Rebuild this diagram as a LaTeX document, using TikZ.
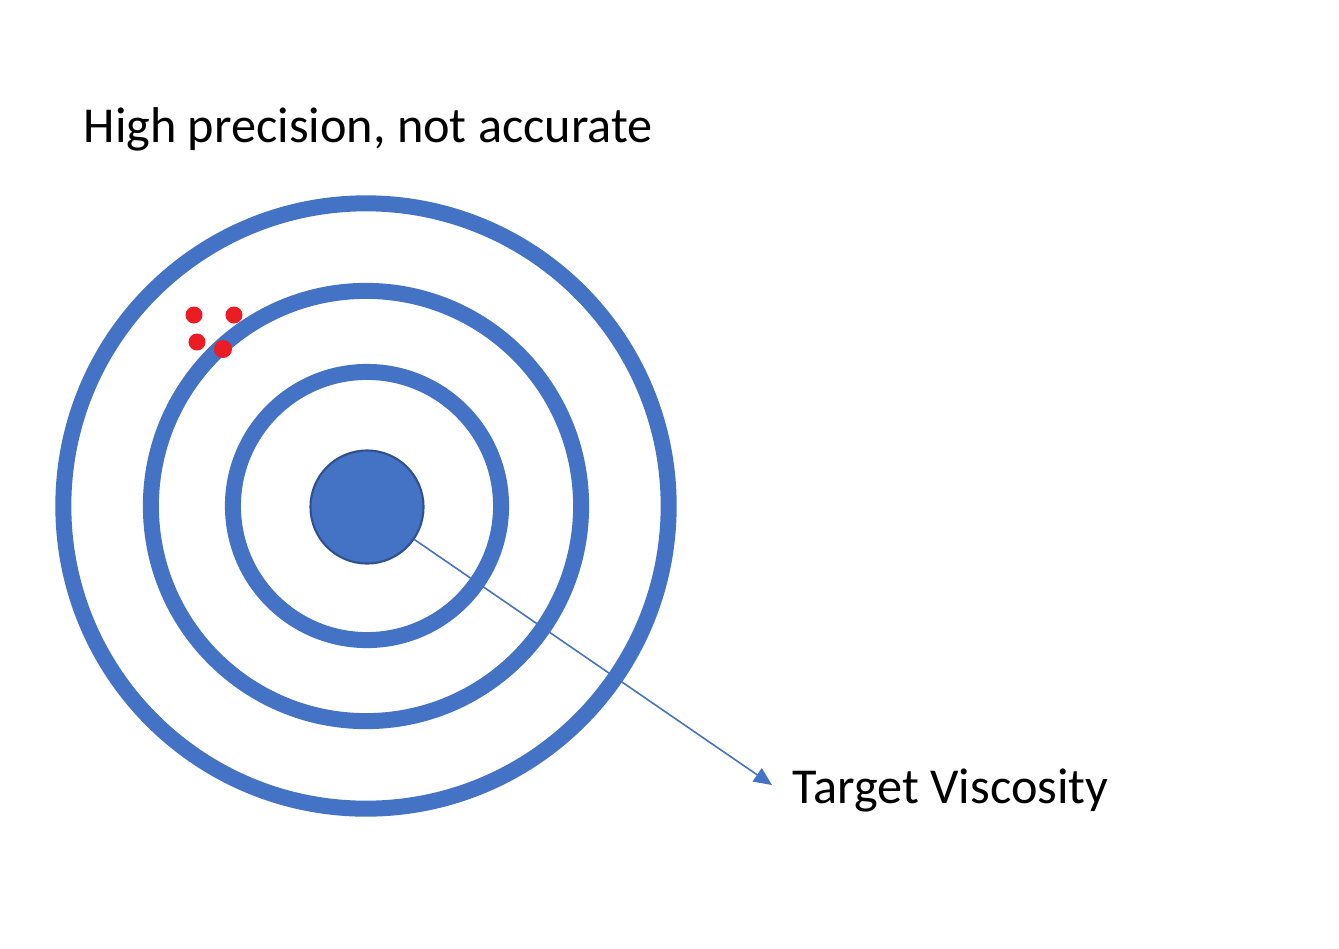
\documentclass[tikz,border=0pt]{standalone}
\usepackage{fontspec}
\setmainfont{Carlito}
\usetikzlibrary{arrows.meta}
\definecolor{ringblue}{HTML}{4472C4}
\definecolor{rimblue}{HTML}{2F528F}
\definecolor{hitred}{HTML}{EC1C24}
\begin{document}
\begin{tikzpicture}[x=0.01cm, y=-0.01cm,
		ring/.style={draw=ringblue, line width=0.16cm, circle, inner sep=0pt},
		hit/.style={fill=hitred, circle, inner sep=0pt, minimum size=0.17cm},
		caption/.style={font=\fontsize{14.3}{17}\selectfont, inner sep=0pt}]
		%%%%% START %%%%%
		
		\useasboundingbox (0, 0) rectangle (1339, 948);
		
		\node[caption, anchor=base west] (title) at (83, 142) {High precision, not accurate};
		
		% rings of the target
		\node[ring, minimum size=6.05cm] (outer) at (366, 506) {};
		\node[ring, minimum size=4.30cm] (middle) at (366, 506) {};
		\node[ring, minimum size=2.68cm] (inner) at (367, 506) {};
		
		\node[circle, fill=ringblue, draw=rimblue, line width=0.6pt, minimum size=1.13cm, inner sep=0pt] (bull) at (367, 507) {};
		
		% the shots
		\node[hit] (hitA) at (194, 315) {};
		\node[hit] (hitB) at (234, 315) {};
		\node[hit] (hitC) at (197, 342) {};
		\node[hit, minimum size=0.18cm] (hitD) at (223, 349) {};
		
		\node[caption, anchor=base west] (label) at (792, 803) {Target Viscosity};
		\coordinate (tip) at (772, 785);
		\draw[ringblue, line width=0.45pt, -{Triangle[length=0.18cm, width=0.16cm]}] (bull) -- (tip);
		
		%%%%% END %%%%%
\end{tikzpicture}
\end{document}
